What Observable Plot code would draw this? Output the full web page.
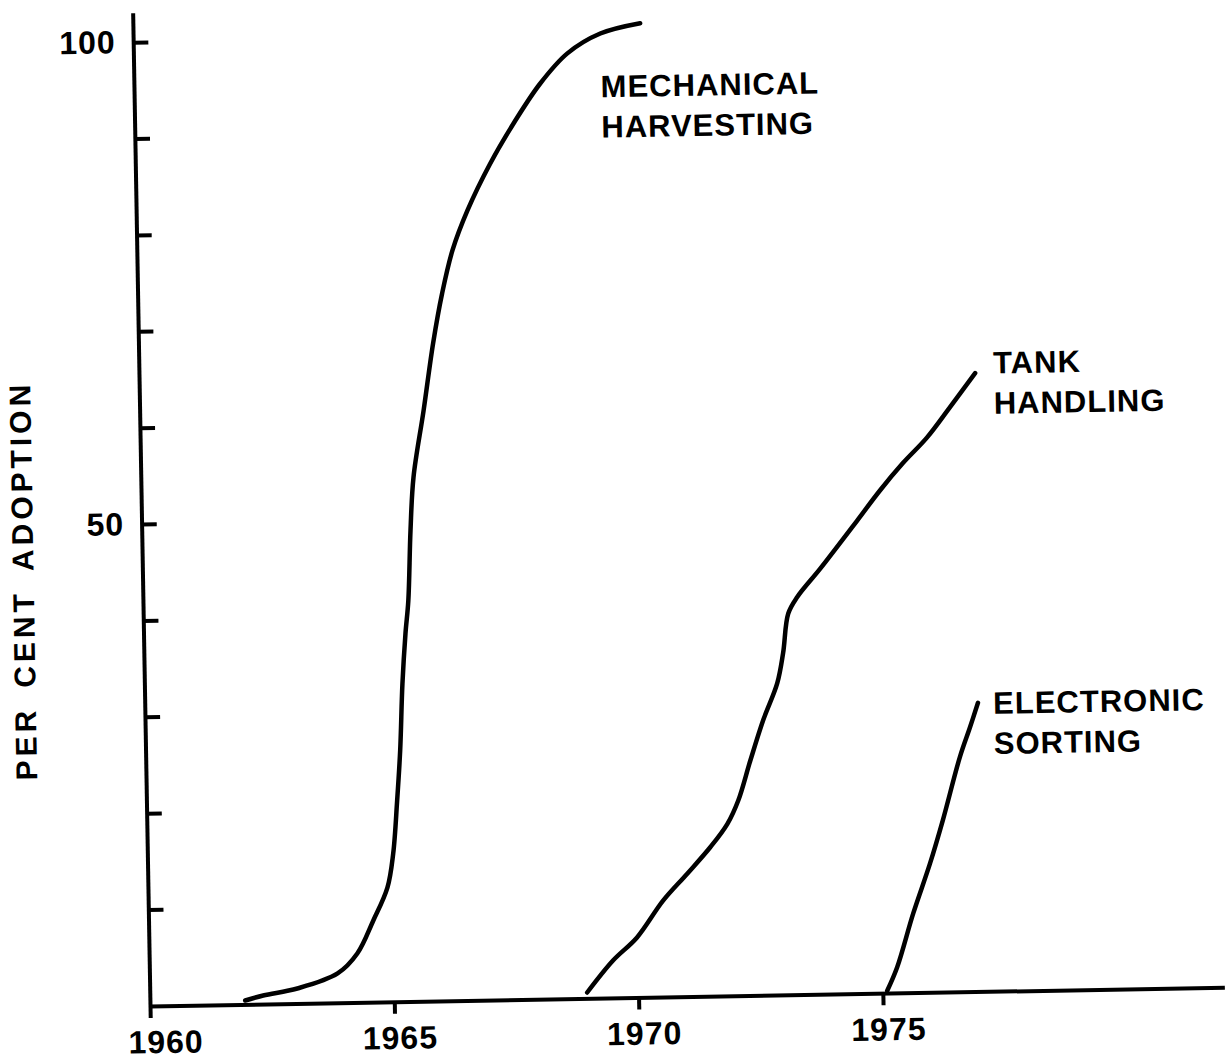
<!DOCTYPE html>
<html><head><meta charset="utf-8">
<script src="https://cdn.jsdelivr.net/npm/d3@7"></script>
<script src="https://cdn.jsdelivr.net/npm/@observablehq/plot@0.6"></script>
<style>
body{margin:0;background:#fff;}
#chart svg{display:block;transform-origin:150px 1006px;transform:rotate(-1deg);}
#chart svg text{letter-spacing:1px;}
</style></head><body><div id="chart"></div>
<script>
// Series names (labels as drawn)
const seriesNames = ["MECHANICAL\nHARVESTING", "TANK\nHANDLING", "ELECTRONIC\nSORTING"];

// Mechanical harvesting adoption (year, per cent)
const mechYear = [1961.94,1962.31,1963.01,1963.84,1964.25,1964.59,1964.89,1965.02,1965.12,1965.20,1965.27,1965.35,1965.42,1965.49,1965.57,1965.80,1966.02,1966.22,1966.45,1966.77,1967.25,1967.74,1968.30,1968.87,1969.55,1970.37];
const mechPct  = [0.45,0.94,1.60,3.09,5.12,8.52,11.9,15.4,20.9,26.1,33.0,38.2,41.6,48.9,54.4,61.3,68.3,73.4,77.9,82.0,86.8,90.9,95.0,98.1,100.1,101.1];

// Tank handling adoption
const tankYear = [1968.94,1969.48,1969.98,1970.53,1971.03,1971.51,1971.87,1972.10,1972.36,1972.64,1972.94,1973.07,1973.19,1973.38,1973.86,1974.63,1975.11,1975.59,1976.09,1976.57,1977.10];
const tankPct  = [0.66,3.93,6.28,10.07,12.8,15.5,17.9,20.3,24.4,28.6,32.4,35.5,39.6,41.3,44.2,49.1,52.2,55.0,57.6,60.7,64.2];

// Electronic sorting adoption
const sortYear = [1975.08,1975.29,1975.64,1976.00,1976.28,1976.65,1976.87,1977.04];
const sortPct  = [0.3,2.69,8.27,13.4,17.9,24.4,27.5,30.0];

// Axis ticks and labels
const xTicks = [1960, 1965, 1970, 1975];
const yTicks = [10, 20, 30, 40, 50, 60, 70, 80, 90, 100];
const yTickLabels = [50, 100];
const yTitle = "PER\u2002CENT\u2002ADOPTION";

// Label anchor points (data units)
const labelYear = [1969.54, 1977.47, 1977.35];
const labelPct = [96.45, 67.1, 31.8];

const rows = [];
mechYear.forEach((x, i) => rows.push({series: seriesNames[0], year: x, pct: mechPct[i]}));
tankYear.forEach((x, i) => rows.push({series: seriesNames[1], year: x, pct: tankPct[i]}));
sortYear.forEach((x, i) => rows.push({series: seriesNames[2], year: x, pct: sortPct[i]}));
const labels = seriesNames.map((s, i) => ({text: s, x: labelYear[i], y: labelPct[i]}));

const chart = Plot.plot({
  width: 1225, height: 1059,
  marginLeft: 150, marginRight: 0, marginTop: 42, marginBottom: 53,
  style: {fontFamily: "'Liberation Sans', Arial, sans-serif", background: "white", overflow: "visible", color: "black"},
  x: {domain: [1960, 1982], axis: null},
  y: {domain: [0, 100], axis: null},
  marks: [
    Plot.ruleY([0], {x1: 1960, x2: 1982, stroke: "black", strokeWidth: 4}),
    Plot.ruleX([1960], {y1: -1.25, y2: 103, stroke: "black", strokeWidth: 4}),
    Plot.ruleY(yTicks, {x1: 1960, x2: 1960.31, stroke: "black", strokeWidth: 4}),
    Plot.ruleX(xTicks.slice(1), {y1: 0, y2: -1.25, stroke: "black", strokeWidth: 4}),
    Plot.text(xTicks.slice(0, 1), {x: d => d, y: 0, dy: 24, dx: 15, text: d => String(d), lineAnchor: "top", fontSize: 32, fontWeight: "bold", fill: "black"}),
    Plot.text(xTicks.slice(1), {x: d => d, y: 0, dy: 24, dx: 5, text: d => String(d), lineAnchor: "top", fontSize: 32, fontWeight: "bold", fill: "black"}),
    Plot.text(yTickLabels, {x: 1960, y: d => d, text: d => String(d), textAnchor: "end", dx: -18, fontSize: 32, fontWeight: "bold", fill: "black"}),
    Plot.text([yTitle], {x: 1960, y: 44.4, dx: -119, text: d => d, rotate: -90, fontSize: 30, fontWeight: "bold", fill: "black"}),
    Plot.line(rows, {x: "year", y: "pct", z: "series", curve: "catmull-rom", stroke: "black", strokeWidth: 4.5, strokeLinecap: "round"}),
    Plot.text(labels, {x: "x", y: "y", text: "text", textAnchor: "start", lineAnchor: "top", lineHeight: 1.3, fontSize: 31, fontWeight: "bold", fill: "black"})
  ]
});
d3.select(chart).selectAll("text").filter(function() { return this.textContent === yTitle; }).style("letter-spacing", "4px");
document.getElementById("chart").appendChild(chart);
</script></body></html>
